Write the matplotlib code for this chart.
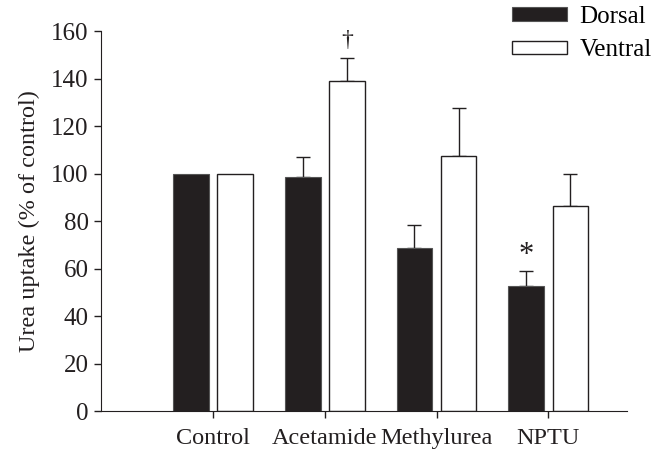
import matplotlib
matplotlib.use("Agg")
import matplotlib.pyplot as plt
import numpy as np

categories = ["Control", "Acetamide", "Methylurea", "NPTU"]
dorsal = [100, 98.4, 68.5, 52.8]
dorsal_err = [0, 8.4, 9.9, 6.2]
ventral = [100, 139, 107.4, 86.5]
ventral_err = [0, 9.6, 20.2, 13.4]

plt.rcParams['font.family'] = ['Liberation Serif', 'DejaVu Serif']

fig = plt.figure(figsize=(6.62, 4.54), dpi=100)
ax = fig.add_axes([0.1526, 0.0947, 0.794, 0.837])

x = np.arange(1, len(categories) + 1)
w = 0.32
off = 0.197

ax.bar(x - off, dorsal, w, color='#231f20', edgecolor='#555555', linewidth=0.8,
       label='Dorsal', zorder=2)
ax.bar(x + off, ventral, w, color='white', edgecolor='#231f20', linewidth=1.0,
       label='Ventral', zorder=2)

# upper-only error bars
for xi, v, e in zip(x - off, dorsal, dorsal_err):
    if e > 0:
        ax.errorbar(xi, v, yerr=[[0], [e]], color='#231f20', capsize=5,
                    elinewidth=1, capthick=1, zorder=1)
for xi, v, e in zip(x + off, ventral, ventral_err):
    if e > 0:
        ax.errorbar(xi, v, yerr=[[0], [e]], color='#231f20', capsize=5,
                    elinewidth=1, capthick=1, zorder=1)

ax.text(2 + off, 151.5, '\u2020', ha='center', va='bottom', fontsize=17, color='#231f20')
ax.text(4 - off, 59.5, '*', ha='center', va='bottom', fontsize=22, color='#231f20')

ax.set_xlim(0, 4.7)
ax.set_ylim(0, 160)
ax.set_yticks(np.arange(0, 161, 20))
ax.set_xticks(x)
ax.set_xticklabels(categories)
ax.tick_params(axis='both', labelsize=18, direction='out', length=5, width=1,
               colors='#231f20')
ax.tick_params(axis='x', labelsize=17.5, pad=7)
ax.tick_params(axis='y', pad=4)
for s in ['top', 'right']:
    ax.spines[s].set_visible(False)
for s in ['left', 'bottom']:
    ax.spines[s].set_color('#231f20')
ax.set_ylabel('Urea uptake (% of control)', fontsize=17.5, color='#231f20', labelpad=8)

leg = fig.legend(loc='upper left', bbox_to_anchor=(512 / 662, 1 - 6 / 454),
                 frameon=False, borderpad=0, borderaxespad=0,
                 fontsize=18, handlelength=2.2, handleheight=0.45,
                 handletextpad=0.5, labelspacing=0.45)

fig.savefig('out.png', dpi=100)
